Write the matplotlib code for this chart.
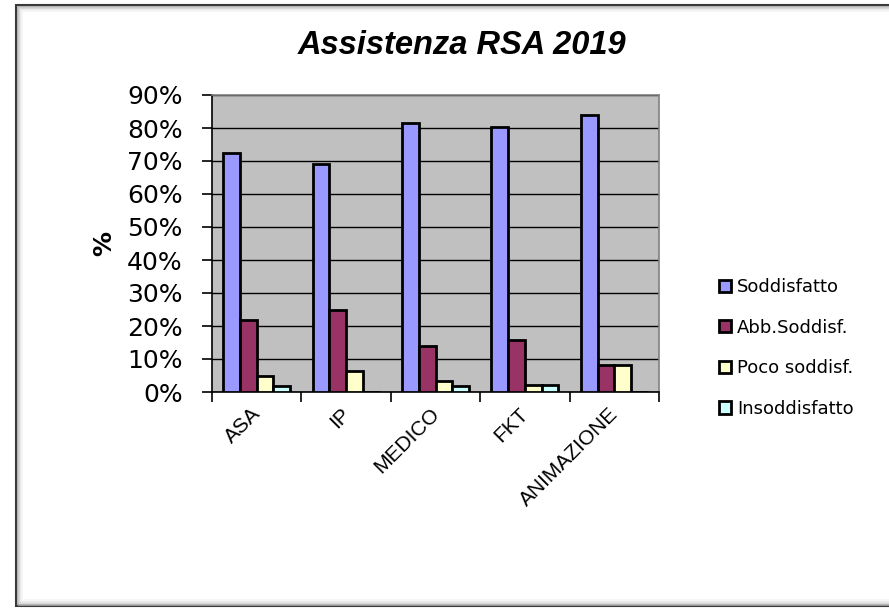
import matplotlib
matplotlib.use('Agg')
import matplotlib.pyplot as plt
import matplotlib.transforms as mtransforms
from matplotlib.patches import Rectangle
import numpy as np

categories = ['ASA', 'IP', 'MEDICO', 'FKT', 'ANIMAZIONE']
series_names = ['Soddisfatto', 'Abb.Soddisf.', 'Poco soddisf.', 'Insoddisfatto']
soddisfatto = [72.3, 69.1, 81.4, 80.2, 84.0]
abb_soddisf = [21.7, 24.8, 14.0, 15.9, 8.1]
poco_soddisf = [4.7, 6.3, 3.2, 2.2, 8.1]
insoddisfatto = [1.7, 0.0, 1.7, 2.2, 0.0]
colors = ['#9999FF', '#993366', '#FFFFCC', '#CCFFFF']

W, H = 889, 613
fig = plt.figure(figsize=(W / 100, H / 100), dpi=100)

# chart area frame: dark edge with a soft inner shade
fig.patches.append(Rectangle((16 / W, 7 / H), 1.0, 601 / H, transform=fig.transFigure,
                             facecolor='white', edgecolor='#3a3a3a', linewidth=1.5, zorder=-3))
for k, col in enumerate(['#a8a8a8', '#d0d0d0', '#e8e8e8', '#f5f5f5']):
    d = 1.5 + 1.5 * k
    fig.patches.append(Rectangle(((16 + d) / W, (7 + d) / H), 1.0, (601 - 2 * d) / H,
                                 transform=fig.transFigure, facecolor='none',
                                 edgecolor=col, linewidth=1.2, zorder=-2))

ax = fig.add_axes([212 / W, 1 - 392 / H, 447 / W, 297 / H])
ax.set_facecolor('#C0C0C0')

x = np.arange(len(categories))
w = 0.1875
all_series = [soddisfatto, abb_soddisf, poco_soddisf, insoddisfatto]
for i, (vals, name, c) in enumerate(zip(all_series, series_names, colors)):
    ax.bar(x + (i - 1.5) * w, vals, width=w, color=c, edgecolor='black',
           linewidth=2.0, label=name, zorder=3)

ax.set_xlim(-0.5, len(categories) - 0.5)
ax.set_ylim(0, 90)
ax.set_yticks(np.arange(0, 91, 10))
ax.set_yticklabels([f'{v}%' for v in range(0, 91, 10)], fontsize=18, family='DejaVu Sans')
ax.yaxis.grid(True, color='black', linewidth=1, zorder=1)
ax.set_axisbelow(True)

# tick marks between categories, labels drawn at the category centres
ax.set_xticks(np.arange(-0.5, len(categories), 1.0))
ax.set_xticklabels([])
lbl_trans = mtransforms.offset_copy(ax.get_xaxis_transform(), fig=fig, x=-6, y=-12, units='dots')
for xi, name in zip(x, categories):
    ax.text(xi, 0, name, transform=lbl_trans, rotation=45, ha='right', va='top',
            rotation_mode='anchor', fontsize=15, family='Liberation Sans')
ax.tick_params(axis='x', length=7, width=1.2, direction='out')
ax.tick_params(axis='y', length=7, width=1.2, direction='out', pad=14)

for s in ['top', 'right']:
    ax.spines[s].set_color('#808080')
    ax.spines[s].set_linewidth(1.2)
for s in ['left', 'bottom']:
    ax.spines[s].set_color('black')
    ax.spines[s].set_linewidth(1.2)

ax.set_ylabel('%', fontsize=18, fontweight='bold', family='DejaVu Sans')
ax.yaxis.set_label_coords((116 - 212) / 447, (392 - 243) / 297)

fig.text(462 / W, 1 - 46 / H, 'Assistenza RSA 2019', ha='center', va='center',
         fontsize=23.5, fontweight='bold', fontstyle='italic', family='Liberation Sans')

leg = ax.legend(loc='center left', bbox_to_anchor=((719 - 212) / 447, (392 - 348) / 297),
                frameon=False, borderpad=0, borderaxespad=0,
                prop={'size': 13, 'family': 'DejaVu Sans'},
                handlelength=0.65, handleheight=0.65, handletextpad=0.35, labelspacing=1.25)

plt.savefig('out.png', dpi=100)
plt.close()
